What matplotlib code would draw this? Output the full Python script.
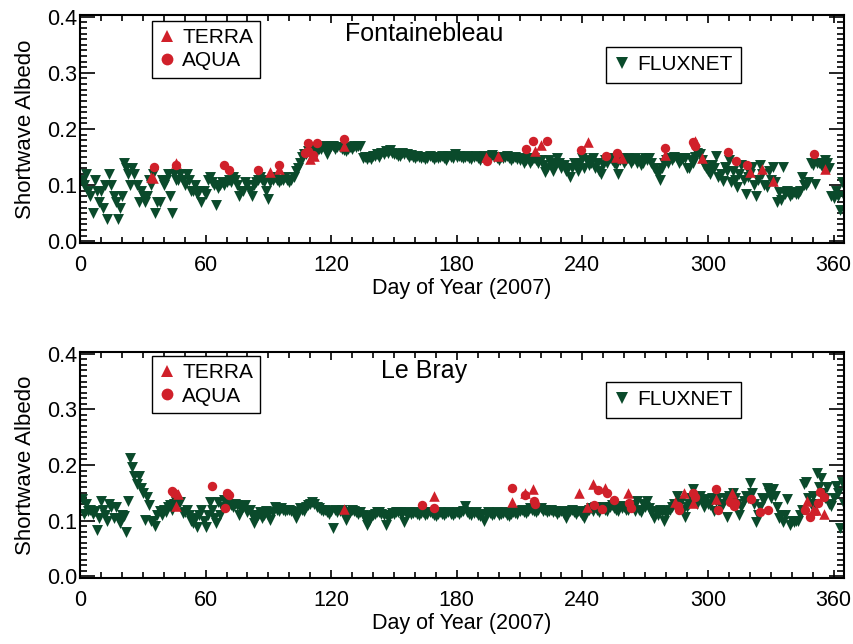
import numpy as np
import matplotlib
matplotlib.use("Agg")
import matplotlib.pyplot as plt
from matplotlib.ticker import MultipleLocator
from matplotlib.lines import Line2D

plt.rcParams['font.family'] = ['Liberation Sans', 'DejaVu Sans']

GREEN = '#0a4a2b'
RED = '#d0202a'

# --- Fontainebleau: FLUXNET daily albedo, days 1..365 ---
fb_flux = [
    0.11, 0.10, 0.12, 0.09, 0.08, 0.05, 0.11, 0.09, 0.07, 0.09, 0.06, 0.10, 0.04, 0.12, 0.10, 0.08, 0.07, 0.04, 0.06, 0.08,
    0.14, 0.13, 0.12, 0.10, 0.13, 0.12, 0.10, 0.07, 0.09, 0.08, 0.07, 0.08, 0.11, 0.10, 0.12, 0.05, 0.07, 0.07, 0.11, 0.10,
    0.11, 0.12, 0.08, 0.05, 0.12, 0.11, 0.11, 0.12, 0.11, 0.10, 0.12, 0.11, 0.09, 0.09, 0.10, 0.085, 0.09, 0.07, 0.09, 0.085,
    0.11, 0.115, 0.105, 0.10, 0.065, 0.095, 0.10, 0.105, 0.10, 0.105, 0.11, 0.105, 0.115, 0.11, 0.10, 0.08, 0.09, 0.09, 0.105, 0.10,
    0.09, 0.08, 0.10, 0.105, 0.11, 0.115, 0.11, 0.105, 0.09, 0.075, 0.105, 0.11, 0.115, 0.11, 0.105, 0.11, 0.11, 0.115, 0.11, 0.105,
    0.11, 0.115, 0.125, 0.13, 0.14, 0.15, 0.155, 0.155, 0.16, 0.16, 0.165, 0.165, 0.16, 0.165, 0.165, 0.17, 0.168, 0.156, 0.165, 0.17,
    0.17, 0.165, 0.168, 0.168, 0.165, 0.162, 0.16, 0.165, 0.168, 0.165, 0.17, 0.168, 0.17, 0.17, 0.148, 0.15, 0.147, 0.15, 0.147, 0.152,
    0.152, 0.155, 0.15, 0.157, 0.156, 0.16, 0.158, 0.162, 0.158, 0.155, 0.155, 0.152, 0.152, 0.158, 0.155, 0.155, 0.15, 0.153, 0.15, 0.148,
    0.152, 0.15, 0.148, 0.15, 0.147, 0.148, 0.152, 0.15, 0.146, 0.15, 0.148, 0.15, 0.152, 0.148, 0.145, 0.152, 0.15, 0.148, 0.155, 0.15,
    0.152, 0.15, 0.148, 0.15, 0.152, 0.148, 0.147, 0.15, 0.152, 0.148, 0.145, 0.15, 0.152, 0.15, 0.148, 0.15, 0.153, 0.15, 0.148, 0.145,
    0.15, 0.148, 0.15, 0.152, 0.148, 0.145, 0.148, 0.15, 0.147, 0.145, 0.148, 0.14, 0.145, 0.148, 0.14, 0.145, 0.148, 0.145, 0.14, 0.145,
    0.135, 0.123, 0.13, 0.145, 0.14, 0.125, 0.135, 0.148, 0.14, 0.13, 0.135, 0.125, 0.13, 0.114, 0.13, 0.14, 0.135, 0.125, 0.14, 0.148,
    0.13, 0.145, 0.135, 0.14, 0.148, 0.13, 0.14, 0.125, 0.12, 0.135, 0.145, 0.14, 0.148, 0.145, 0.14, 0.135, 0.12, 0.145, 0.148, 0.14,
    0.145, 0.148, 0.14, 0.145, 0.148, 0.14, 0.145, 0.135, 0.14, 0.148, 0.145, 0.148, 0.14, 0.13, 0.125, 0.12, 0.11, 0.13, 0.14, 0.145,
    0.14, 0.148, 0.145, 0.15, 0.148, 0.14, 0.145, 0.148, 0.148, 0.13, 0.13, 0.145, 0.14, 0.15, 0.158, 0.155, 0.145, 0.136, 0.13, 0.125,
    0.12, 0.135, 0.13, 0.152, 0.114, 0.12, 0.108, 0.133, 0.125, 0.145, 0.105, 0.125, 0.11, 0.096, 0.12, 0.135, 0.11, 0.084, 0.115, 0.12,
    0.133, 0.10, 0.081, 0.11, 0.136, 0.12, 0.10, 0.097, 0.125, 0.11, 0.133, 0.105, 0.07, 0.087, 0.073, 0.133, 0.085, 0.09, 0.08, 0.085,
    0.087, 0.085, 0.084, 0.09, 0.114, 0.10, 0.10, 0.105, 0.14, 0.135, 0.102, 0.14, 0.14, 0.136, 0.13, 0.145, 0.14, 0.13, 0.08, 0.077,
    0.09, 0.08, 0.055, 0.105, 0.08,
]

fb_terra_day = [34, 35, 46, 91, 95, 110, 112, 126, 194, 199.5, 217.5, 220, 242.5, 256, 259, 279.6, 294, 297, 320, 326, 331, 356]
fb_terra_val = [0.115, 0.112, 0.14, 0.123, 0.128, 0.147, 0.152, 0.17, 0.15, 0.152, 0.161, 0.172, 0.176, 0.15, 0.149, 0.154, 0.178, 0.149, 0.124, 0.128, 0.108, 0.128]

fb_aqua_day = [35.5, 46, 69, 71.4, 85, 95, 107.5, 109, 109, 111.5, 113, 126, 194.4, 213, 216.4, 223, 239.5, 251.4, 256.5,
               279.6, 293, 294, 309.5, 313.6, 318.7, 350.5]
fb_aqua_val = [0.133, 0.135, 0.136, 0.127, 0.127, 0.135, 0.158, 0.161, 0.175, 0.154, 0.175, 0.183, 0.143, 0.165, 0.179, 0.179, 0.163, 0.152, 0.158,
               0.166, 0.176, 0.17, 0.159, 0.143, 0.136, 0.155]

# --- Le Bray: FLUXNET daily albedo, days 1..365 ---
lb_flux = [
    0.139, 0.112, 0.13, 0.118, 0.12, 0.112, 0.118, 0.083, 0.105, 0.135, 0.12, 0.11, 0.099, 0.13, 0.125, 0.105, 0.124, 0.105, 0.096, 0.11,
    0.108, 0.08, 0.136, 0.212, 0.197, 0.18, 0.165, 0.18, 0.158, 0.15, 0.101, 0.142, 0.128, 0.10, 0.10, 0.09, 0.11, 0.117, 0.11, 0.12,
    0.115, 0.125, 0.128, 0.12, 0.13, 0.134, 0.13, 0.134, 0.113, 0.115, 0.12, 0.11, 0.10, 0.096, 0.105, 0.088, 0.11, 0.12, 0.10, 0.088,
    0.11, 0.134, 0.12, 0.105, 0.096, 0.134, 0.11, 0.125, 0.137, 0.13, 0.128, 0.128, 0.125, 0.13, 0.128, 0.11, 0.12, 0.125, 0.128, 0.115,
    0.12, 0.11, 0.096, 0.105, 0.11, 0.115, 0.104, 0.11, 0.117, 0.11, 0.101, 0.115, 0.125, 0.12, 0.118, 0.122, 0.12, 0.118, 0.119, 0.12,
    0.118, 0.115, 0.104, 0.115, 0.122, 0.12, 0.118, 0.125, 0.128, 0.13, 0.134, 0.13, 0.125, 0.122, 0.12, 0.118, 0.119, 0.115, 0.112, 0.118,
    0.086, 0.119, 0.115, 0.118, 0.12, 0.112, 0.101, 0.11, 0.115, 0.119, 0.118, 0.115, 0.112, 0.116, 0.11, 0.105, 0.093, 0.10, 0.108, 0.11,
    0.112, 0.115, 0.116, 0.112, 0.11, 0.093, 0.105, 0.11, 0.113, 0.112, 0.115, 0.116, 0.116, 0.112, 0.098, 0.11, 0.115, 0.112, 0.113, 0.115,
    0.112, 0.11, 0.113, 0.115, 0.11, 0.112, 0.115, 0.113, 0.11, 0.108, 0.112, 0.115, 0.112, 0.11, 0.113, 0.115, 0.112, 0.11, 0.113, 0.115,
    0.112, 0.115, 0.118, 0.127, 0.115, 0.112, 0.11, 0.113, 0.115, 0.11, 0.108, 0.112, 0.10, 0.112, 0.115, 0.113, 0.11, 0.112, 0.115, 0.11,
    0.112, 0.113, 0.115, 0.11, 0.108, 0.112, 0.115, 0.113, 0.112, 0.118, 0.12, 0.115, 0.113, 0.118, 0.122, 0.12, 0.118, 0.115, 0.12, 0.122,
    0.118, 0.12, 0.115, 0.118, 0.12, 0.115, 0.118, 0.112, 0.115, 0.118, 0.112, 0.104, 0.115, 0.118, 0.12, 0.115, 0.112, 0.118, 0.115, 0.11,
    0.104, 0.118, 0.12, 0.122, 0.118, 0.125, 0.12, 0.115, 0.122, 0.125, 0.12, 0.118, 0.125, 0.128, 0.122, 0.12, 0.118, 0.127, 0.122, 0.125,
    0.12, 0.12, 0.128, 0.125, 0.118, 0.136, 0.12, 0.115, 0.13, 0.125, 0.136, 0.122, 0.115, 0.104, 0.118, 0.11, 0.12, 0.115, 0.10, 0.112,
    0.118, 0.12, 0.125, 0.13, 0.144, 0.128, 0.135, 0.12, 0.106, 0.125, 0.13, 0.14, 0.156, 0.14, 0.13, 0.144, 0.135, 0.125, 0.139, 0.13,
    0.128, 0.14, 0.118, 0.135, 0.14, 0.125, 0.13, 0.14, 0.106, 0.145, 0.135, 0.15, 0.14, 0.13, 0.11, 0.125, 0.135, 0.144, 0.14, 0.168,
    0.15, 0.13, 0.098, 0.11, 0.125, 0.14, 0.139, 0.159, 0.15, 0.14, 0.156, 0.145, 0.125, 0.104, 0.11, 0.098, 0.11, 0.139, 0.092, 0.10,
    0.098, 0.10, 0.10, 0.11, 0.12, 0.165, 0.17, 0.14, 0.13, 0.144, 0.13, 0.185, 0.16, 0.177, 0.15, 0.14, 0.16, 0.13, 0.127, 0.14,
    0.162, 0.15, 0.086, 0.17, 0.13,
]

lb_terra_day = [46, 47, 126, 169.2, 206.3, 212.7, 216.4, 238.4, 242, 245, 250.8, 262, 284.4, 288.4, 293, 304, 311.5, 347.3, 350, 351.4, 355.3]
lb_terra_val = [0.127, 0.148, 0.121, 0.144, 0.133, 0.15, 0.157, 0.149, 0.124, 0.165, 0.158, 0.15, 0.133, 0.15, 0.132, 0.139, 0.15, 0.136, 0.12, 0.12, 0.112]

lb_aqua_day = [43.8, 44.8, 63.2, 69.3, 70, 71, 163.3, 169.2, 206.3, 212.7, 216.7, 217.5, 245.4, 247.7, 249.3, 252, 255, 262.5, 263,
               285.5, 286, 293, 294, 304, 305, 310.7, 312.5, 313, 320.7, 325, 328.6, 346.5, 348.6, 352.6, 353.4, 355.5]
lb_aqua_val = [0.154, 0.15, 0.162, 0.122, 0.15, 0.146, 0.129, 0.123, 0.158, 0.146, 0.135, 0.13, 0.129, 0.155, 0.121, 0.15, 0.137, 0.132, 0.123,
               0.126, 0.12, 0.15, 0.142, 0.156, 0.12, 0.133, 0.127, 0.131, 0.139, 0.115, 0.119, 0.12, 0.106, 0.132, 0.152, 0.143]

panels = [
    ("Fontainebleau", fb_flux, fb_terra_day, fb_terra_val, fb_aqua_day, fb_aqua_val),
    ("Le Bray", lb_flux, lb_terra_day, lb_terra_val, lb_aqua_day, lb_aqua_val),
]

fig = plt.figure(figsize=(8.54, 6.44), dpi=100)
# axes boxes in figure fractions (left, bottom, width, height)
boxes = [(0.0937, 0.6227, 0.8946, 0.3540), (0.0937, 0.1025, 0.8946, 0.3509)]
# legend anchors (top-left of each box, axes fractions)
leg1_anchor = [(0.094, 0.974), (0.094, 0.982)]
leg2_anchor = [(0.688, 0.86), (0.688, 0.867)]

for i, ((name, flux, t_day, t_val, a_day, a_val), box) in enumerate(zip(panels, boxes)):
    ax = fig.add_axes(box)
    days = np.arange(1, len(flux) + 1)
    ax.scatter(days, flux, marker='v', s=62, color=GREEN, linewidths=0, zorder=2)
    ax.scatter(t_day, t_val, marker='^', s=58, color=RED, linewidths=0, zorder=3)
    ax.scatter(a_day, a_val, marker='o', s=46, color=RED, linewidths=0, zorder=3)

    ax.set_xlim(0, 365)
    ax.set_ylim(-0.003, 0.403)
    ax.xaxis.set_major_locator(MultipleLocator(60))
    ax.xaxis.set_minor_locator(MultipleLocator(10))
    ax.yaxis.set_major_locator(MultipleLocator(0.1))
    ax.yaxis.set_minor_locator(MultipleLocator(0.01))
    ax.tick_params(which='both', direction='in', top=True, right=True, width=1.2, labelsize=15.5)
    ax.tick_params(axis='y', which='major', length=11, pad=2)
    ax.tick_params(axis='y', which='minor', length=5)
    ax.tick_params(axis='x', which='major', length=6, pad=9)
    ax.tick_params(axis='x', which='minor', length=4)
    ax.yaxis.set_major_formatter(matplotlib.ticker.FormatStrFormatter('%.1f'))
    for sp in ax.spines.values():
        sp.set_linewidth(1.5)

    ax.set_xlabel("Day of Year (2007)", fontsize=15.5)
    ax.xaxis.set_label_coords(0.5, -0.2)
    ax.xaxis.label.set_verticalalignment('center')
    ax.set_ylabel("Shortwave Albedo", fontsize=16)
    ax.yaxis.set_label_coords(-0.071, 0.5)
    ax.yaxis.label.set_verticalalignment('center')

    ax.text(0.45, 0.915, name, transform=ax.transAxes, ha='center', va='center', fontsize=18)

    h1 = [Line2D([], [], marker='^', linestyle='none', color=RED, markersize=9, markeredgewidth=0),
          Line2D([], [], marker='o', linestyle='none', color=RED, markersize=8.5, markeredgewidth=0)]
    leg1 = ax.legend(h1, ["TERRA", "AQUA"], loc='upper left', bbox_to_anchor=leg1_anchor[i],
                     fontsize=15, frameon=True, fancybox=False, edgecolor='black', framealpha=1,
                     handlelength=0.8, handletextpad=0.3, borderpad=0.35, labelspacing=0.2, borderaxespad=0)
    leg1.get_frame().set_linewidth(1.0)
    ax.add_artist(leg1)
    h2 = [Line2D([], [], marker='v', linestyle='none', color=GREEN, markersize=9, markeredgewidth=0)]
    leg2 = ax.legend(h2, ["FLUXNET"], loc='upper left', bbox_to_anchor=leg2_anchor[i],
                     fontsize=15, frameon=True, fancybox=False, edgecolor='black', framealpha=1,
                     handlelength=0.8, handletextpad=0.3, borderpad=0.4, borderaxespad=0)
    leg2.get_frame().set_linewidth(1.0)

fig.savefig("out.png", dpi=100)
